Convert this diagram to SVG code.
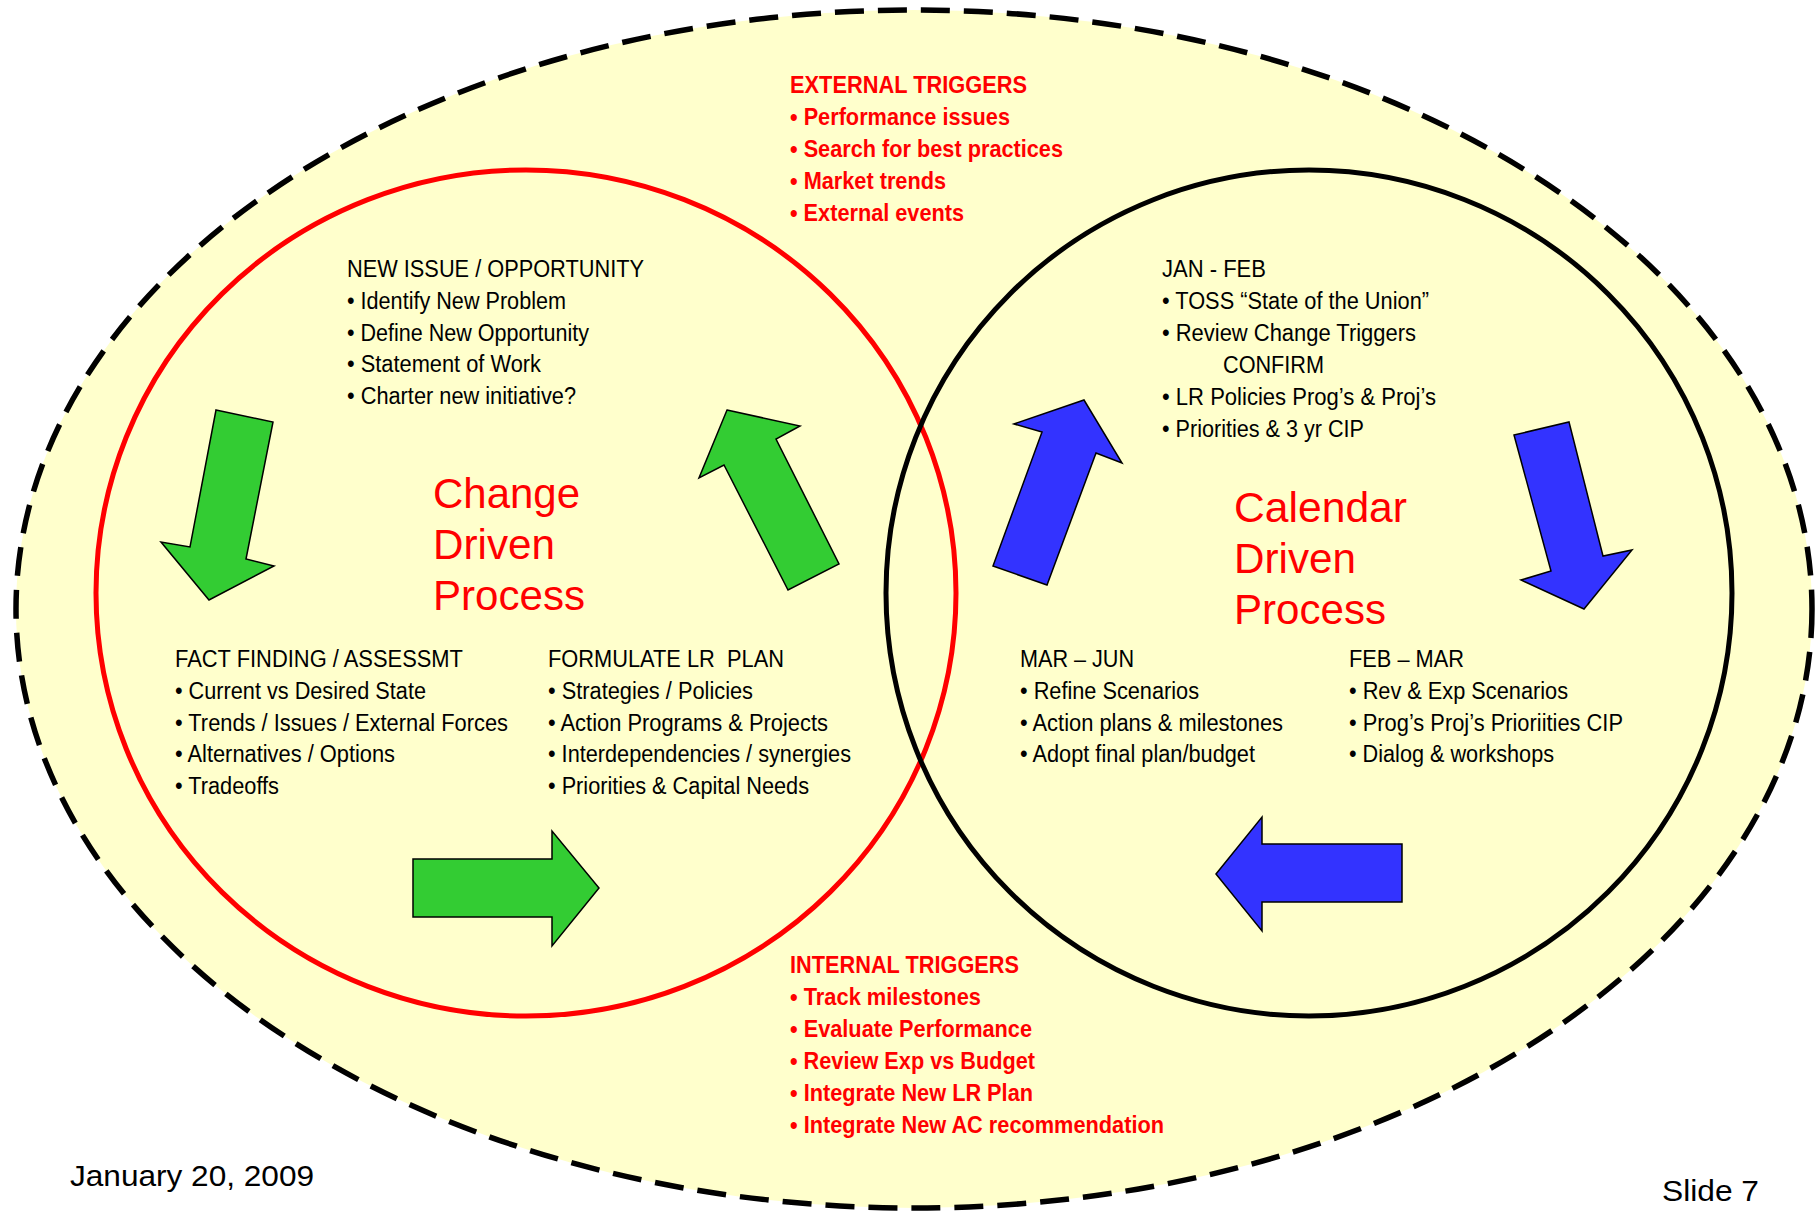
<svg xmlns="http://www.w3.org/2000/svg" width="1820" height="1211" viewBox="0 0 1820 1211">
  <style>
    .t { font-family: "Liberation Sans", Arial, sans-serif; font-size: 23px; fill: #000; }
    .r { font-family: "Liberation Sans", Arial, sans-serif; font-size: 24px; font-weight: bold; fill: #FF0000; }
    .big { font-family: "Liberation Sans", Arial, sans-serif; font-size: 42px; fill: #FF0000; }
    .foot { font-family: "Liberation Sans", Arial, sans-serif; font-size: 30px; fill: #000; }
    .green { fill: #33CC33; stroke: #000; stroke-width: 1.5; stroke-linejoin: miter; }
    .blue { fill: #3333FF; stroke: #000; stroke-width: 1.5; stroke-linejoin: miter; }
  </style>
  <rect width="1820" height="1211" fill="#FFFFFF"/>

  <!-- overall boundary -->
  <g id="boundary">
    <ellipse cx="914" cy="609" rx="898" ry="599" fill="#FFFFCC" stroke="#000" stroke-width="5.5" stroke-dasharray="29 14"/>
  </g>

  <!-- the two process cycles -->
  <g id="change-cycle">
    <ellipse cx="526" cy="593" rx="430" ry="423" fill="none" stroke="#FF0000" stroke-width="5"/>
  </g>
  <g id="calendar-cycle">
    <ellipse cx="1309" cy="593" rx="423" ry="423" fill="none" stroke="#000" stroke-width="5"/>
  </g>

  <!-- cycle arrows -->
  <g id="connectors">
    <polygon class="green" points="216,410 273,422 246,559 274,566 209,600 161,542 190,547"/>
    <polygon class="green" points="413,859 552,859 552,831 599,888 552,946 552,917 413,917"/>
    <polygon class="green" points="727,410 800,426 776,439 839,564 788,590 724,465 699,478"/>
    <polygon class="blue" points="1084,400 1122,463 1096,453 1047,585 993,566 1042,432 1014,424"/>
    <polygon class="blue" points="1514,435 1569,422 1603,556 1632,550 1584,609 1521,580 1551,571"/>
    <polygon class="blue" points="1216,874 1262,817 1262,844 1402,844 1402,902 1262,902 1262,931"/>
  </g>

  <g id="external-triggers">
    <text class="r" x="790" y="93" textLength="237" lengthAdjust="spacingAndGlyphs">EXTERNAL TRIGGERS</text>
    <text class="r" x="790" y="125" textLength="220" lengthAdjust="spacingAndGlyphs">• Performance issues</text>
    <text class="r" x="790" y="157" textLength="273" lengthAdjust="spacingAndGlyphs">• Search for best practices</text>
    <text class="r" x="790" y="189" textLength="156" lengthAdjust="spacingAndGlyphs">• Market trends</text>
    <text class="r" x="790" y="221" textLength="174" lengthAdjust="spacingAndGlyphs">• External events</text>
  </g>

  <g id="new-issue">
    <text class="t" x="347" y="277" textLength="297" lengthAdjust="spacingAndGlyphs">NEW ISSUE / OPPORTUNITY</text>
    <text class="t" x="347" y="309" textLength="219" lengthAdjust="spacingAndGlyphs">• Identify New Problem</text>
    <text class="t" x="347" y="341" textLength="242" lengthAdjust="spacingAndGlyphs">• Define New Opportunity</text>
    <text class="t" x="347" y="372" textLength="194" lengthAdjust="spacingAndGlyphs">• Statement of Work</text>
    <text class="t" x="347" y="404" textLength="229" lengthAdjust="spacingAndGlyphs">• Charter new initiative?</text>
  </g>

  <g id="fact-finding">
    <text class="t" x="175" y="667" textLength="288" lengthAdjust="spacingAndGlyphs">FACT FINDING / ASSESSMT</text>
    <text class="t" x="175" y="699" textLength="251" lengthAdjust="spacingAndGlyphs">• Current vs Desired State</text>
    <text class="t" x="175" y="731" textLength="333" lengthAdjust="spacingAndGlyphs">• Trends / Issues / External Forces</text>
    <text class="t" x="175" y="762" textLength="220" lengthAdjust="spacingAndGlyphs">• Alternatives / Options</text>
    <text class="t" x="175" y="794" textLength="104" lengthAdjust="spacingAndGlyphs">• Tradeoffs</text>
  </g>

  <g id="formulate-plan">
    <text class="t" x="548" y="667" textLength="236" lengthAdjust="spacingAndGlyphs" xml:space="preserve">FORMULATE LR  PLAN</text>
    <text class="t" x="548" y="699" textLength="205" lengthAdjust="spacingAndGlyphs">• Strategies / Policies</text>
    <text class="t" x="548" y="731" textLength="280" lengthAdjust="spacingAndGlyphs">• Action Programs &amp; Projects</text>
    <text class="t" x="548" y="762" textLength="303" lengthAdjust="spacingAndGlyphs">• Interdependencies / synergies</text>
    <text class="t" x="548" y="794" textLength="261" lengthAdjust="spacingAndGlyphs">• Priorities &amp; Capital Needs</text>
  </g>

  <g id="change-title">
    <text class="big" x="433" y="508" textLength="147" lengthAdjust="spacingAndGlyphs">Change</text>
    <text class="big" x="433" y="559" textLength="122" lengthAdjust="spacingAndGlyphs">Driven</text>
    <text class="big" x="433" y="610" textLength="152" lengthAdjust="spacingAndGlyphs">Process</text>
  </g>

  <g id="jan-feb">
    <text class="t" x="1162" y="277" textLength="104" lengthAdjust="spacingAndGlyphs">JAN - FEB</text>
    <text class="t" x="1162" y="309" textLength="267" lengthAdjust="spacingAndGlyphs">• TOSS “State of the Union”</text>
    <text class="t" x="1162" y="341" textLength="254" lengthAdjust="spacingAndGlyphs">• Review Change Triggers</text>
    <text class="t" x="1223" y="373" textLength="101" lengthAdjust="spacingAndGlyphs">CONFIRM</text>
    <text class="t" x="1162" y="405" textLength="274" lengthAdjust="spacingAndGlyphs">• LR Policies Prog’s &amp; Proj’s</text>
    <text class="t" x="1162" y="437" textLength="202" lengthAdjust="spacingAndGlyphs">• Priorities &amp; 3 yr CIP</text>
  </g>

  <g id="calendar-title">
    <text class="big" x="1234" y="522" textLength="173" lengthAdjust="spacingAndGlyphs">Calendar</text>
    <text class="big" x="1234" y="573" textLength="122" lengthAdjust="spacingAndGlyphs">Driven</text>
    <text class="big" x="1234" y="624" textLength="152" lengthAdjust="spacingAndGlyphs">Process</text>
  </g>

  <g id="mar-jun">
    <text class="t" x="1020" y="667" textLength="114" lengthAdjust="spacingAndGlyphs">MAR – JUN</text>
    <text class="t" x="1020" y="699" textLength="179" lengthAdjust="spacingAndGlyphs">• Refine Scenarios</text>
    <text class="t" x="1020" y="731" textLength="263" lengthAdjust="spacingAndGlyphs">• Action plans &amp; milestones</text>
    <text class="t" x="1020" y="762" textLength="235" lengthAdjust="spacingAndGlyphs">• Adopt final plan/budget</text>
  </g>

  <g id="feb-mar">
    <text class="t" x="1349" y="667" textLength="115" lengthAdjust="spacingAndGlyphs">FEB – MAR</text>
    <text class="t" x="1349" y="699" textLength="219" lengthAdjust="spacingAndGlyphs">• Rev &amp; Exp Scenarios</text>
    <text class="t" x="1349" y="731" textLength="274" lengthAdjust="spacingAndGlyphs">• Prog’s Proj’s Prioriities CIP</text>
    <text class="t" x="1349" y="762" textLength="205" lengthAdjust="spacingAndGlyphs">• Dialog &amp; workshops</text>
  </g>

  <g id="internal-triggers">
    <text class="r" x="790" y="973" textLength="229" lengthAdjust="spacingAndGlyphs">INTERNAL TRIGGERS</text>
    <text class="r" x="790" y="1005" textLength="191" lengthAdjust="spacingAndGlyphs">• Track milestones</text>
    <text class="r" x="790" y="1037" textLength="242" lengthAdjust="spacingAndGlyphs">• Evaluate Performance</text>
    <text class="r" x="790" y="1069" textLength="245" lengthAdjust="spacingAndGlyphs">• Review Exp vs Budget</text>
    <text class="r" x="790" y="1101" textLength="243" lengthAdjust="spacingAndGlyphs">• Integrate New LR Plan</text>
    <text class="r" x="790" y="1133" textLength="374" lengthAdjust="spacingAndGlyphs">• Integrate New AC recommendation</text>
  </g>

  <g id="footer">
    <text class="foot" x="70" y="1186" textLength="244" lengthAdjust="spacingAndGlyphs">January 20, 2009</text>
    <text class="foot" x="1662" y="1201" textLength="97" lengthAdjust="spacingAndGlyphs">Slide 7</text>
  </g>
</svg>
